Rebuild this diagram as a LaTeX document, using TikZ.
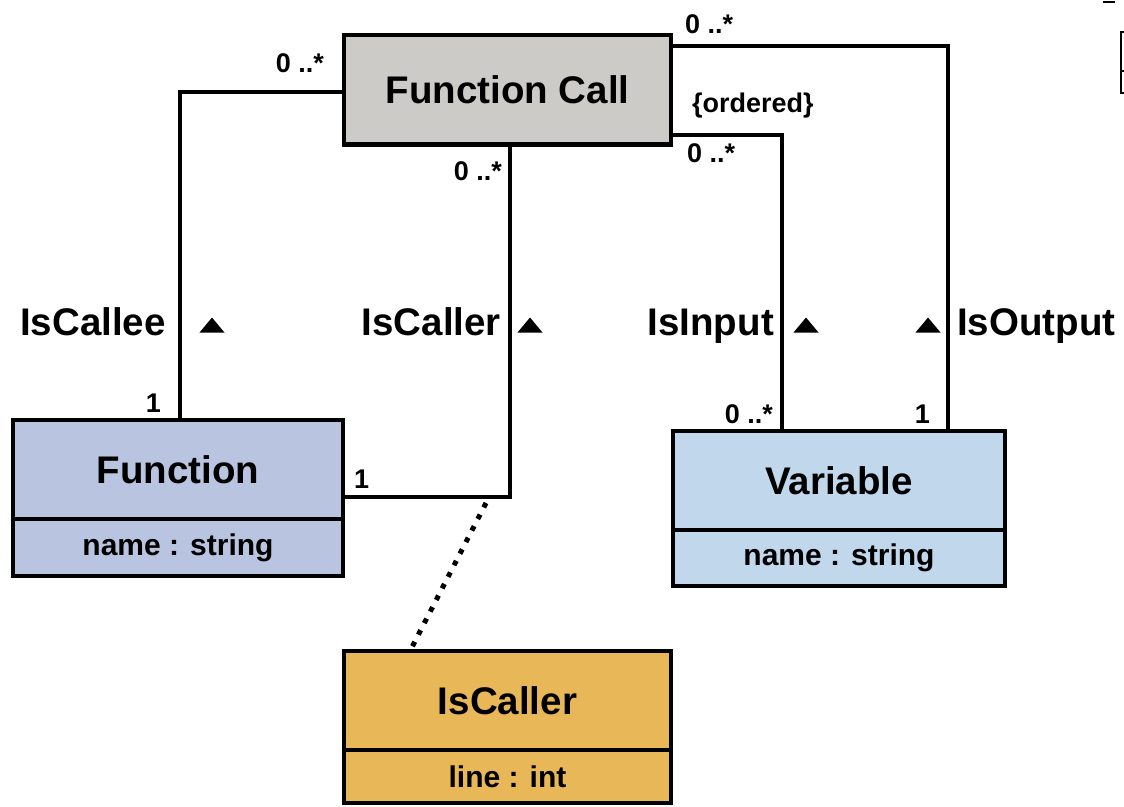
\documentclass[tikz,border=0pt]{standalone}
\usepackage{fontspec}
\setmainfont{Liberation Sans}
\usepackage{tikz}
\usetikzlibrary{positioning}
\definecolor{callgray}{RGB}{204,203,200}
\definecolor{funcblue}{RGB}{185,197,224}
\definecolor{varblue}{RGB}{193,215,236}
\definecolor{linkorange}{RGB}{232,183,88}
\newcommand\clsfont{\fontsize{38.5}{40}\selectfont\bfseries}
\newcommand\attrfont{\fontsize{30}{32}\selectfont\bfseries}
\newcommand\multfont{\fontsize{27}{29}\selectfont\bfseries}
\tikzset{classbox/.style = {draw, line width=4.5pt, inner sep=0pt, outer sep=0pt, font=\clsfont},
         attrbox/.style = {draw, line width=4.5pt, inner sep=0pt, outer sep=0pt, font=\attrfont},
         assoc/.style = {line width=4.5pt},
         mult/.style = {inner sep=0pt, font=\multfont},
         rolename/.style = {inner sep=0pt, font=\clsfont}}

\begin{document}
\begin{tikzpicture}[x=1pt, y=-1pt]
    \useasboundingbox (0, 0) rectangle (1124, 806);

    \node [classbox, fill=callgray, minimum width=327pt, minimum height=109.5pt] (fc) at (507.5, 89.75) {Function Call};

    \node [classbox, fill=funcblue, minimum width=330pt, minimum height=99pt] (fn) at (178, 469.5) {Function};
    \node [attrbox, fill=funcblue, minimum width=330pt, minimum height=57pt, below=0pt of fn] (fnattr) {name : string};

    \node [classbox, fill=varblue, minimum width=332pt, minimum height=99pt] (var) at (839, 480.5) {Variable};
    \node [attrbox, fill=varblue, minimum width=332pt, minimum height=56pt, below=0pt of var] (varattr) {name : string};

    \node [classbox, fill=linkorange, minimum width=327pt, minimum height=99pt] (lnk) at (507.5, 700.5) {IsCaller};
    \node [attrbox, fill=linkorange, minimum width=327pt, minimum height=53pt, below=0pt of lnk] (lnkattr) {line : int};

    \coordinate (calleebend) at (180, 92);
    \coordinate (callerbend) at (510, 497);
    \coordinate (inbend) at (782, 135);
    \coordinate (outbend) at (948, 46);
    \coordinate (linkend) at (486, 503);
    \coordinate (linkfoot) at (410, 651);

    \draw [assoc] (fc.west |- calleebend) -- (calleebend) -- (fn.north -| calleebend);
    \draw [assoc] (fc.south -| callerbend) -- (callerbend) -- (fn.east |- callerbend);
    \draw [assoc] (fc.east |- inbend) -- (inbend) -- (var.north -| inbend);
    \draw [assoc] (fc.east |- outbend) -- (outbend) -- (var.north -| outbend);
    \draw [line width=5pt, dash pattern=on 5pt off 8pt] (linkend) -- (lnk.north -| linkfoot);

    \node [mult, anchor=base east] (calleemany) at (324, 72) {0 ..*};
    \node [mult, anchor=base east] (calleeone) at (161, 412) {1};
    \node [mult, anchor=base east] (callermany) at (502, 180) {0 ..*};
    \node [mult, anchor=base west] (callerone) at (354, 488) {1};
    \node [mult, anchor=base west] (outmany) at (685, 33) {0 ..*};
    \node [mult, anchor=base west] (ordered) at (692, 112) {\{ordered\}};
    \node [mult, anchor=base west] (inmany) at (687, 162) {0 ..*};
    \node [mult, anchor=base east] (invarmany) at (773, 423) {0 ..*};
    \node [mult, anchor=base east] (outone) at (930, 423) {1};

    \node [rolename, anchor=base east] (callee) at (166, 335) {IsCallee};
    \node [rolename, anchor=base east] (caller) at (501, 335) {IsCaller};
    \node [rolename, anchor=base east] (input) at (774, 335) {IsInput};
    \node [rolename, anchor=base west] (output) at (957, 335) {IsOutput};

    \foreach \x in {212, 530, 806, 928}
      \fill (\x, 325) ++(-12.5, 7.5) -- ++(25, 0) -- ++(-12.5, -15) -- cycle;

    \draw [line width=2pt] (1124, 32) -- (1121, 32) -- (1121, 93) -- (1124, 93);
    \draw [line width=2pt] (1121, 71) -- (1124, 71);
    \draw [line width=1.5pt] (1103, 2) -- (1115, 2);
  \end{tikzpicture}
\end{document}
